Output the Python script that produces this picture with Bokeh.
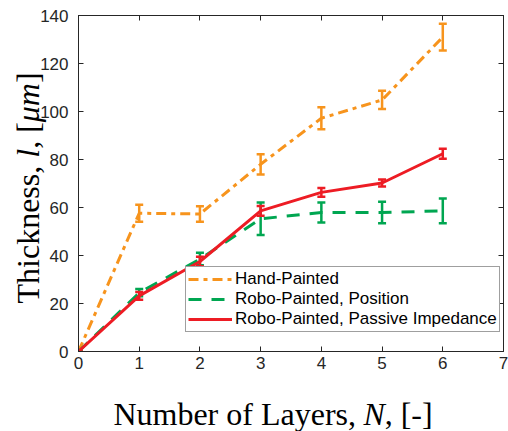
from bokeh.plotting import figure
from bokeh.layouts import row, column
from bokeh.models import (ColumnDataSource, Whisker, TeeHead, Legend, LegendItem,
                          Label, LinearAxis, FixedTicker, Range1d)
from bokeh.embed import file_html
from bokeh.resources import INLINE
from math import pi

# ---------------- data ----------------
layers = [0, 1, 2, 3, 4, 5, 6]
hand = [0, 57.6, 57.3, 78.0, 97.2, 104.8, 131.0]
hand_err = [0, 3.5, 3.2, 4.2, 4.6, 3.8, 5.6]
position = [0, 24.5, 38.5, 55.3, 57.9, 57.9, 58.6]
position_err = [0, 1.5, 2.6, 6.8, 4.2, 4.5, 5.2]
impedance = [0, 23.2, 37.5, 58.6, 66.3, 70.2, 82.4]
impedance_err = [0, 1.6, 2.0, 2.0, 1.8, 1.5, 2.1]

series_names = ["Hand-Painted", "Robo-Painted, Position", "Robo-Painted, Passive Impedance"]
x_ticks = [0, 1, 2, 3, 4, 5, 6, 7]
y_ticks = [0, 20, 40, 60, 80, 100, 120, 140]

ORANGE = "#F7941D"
GREEN = "#00A651"
RED = "#ED1C24"
AX = "#262626"

# ---------------- main chart ----------------
p = figure(width=471, height=380, output_backend="svg", toolbar_location=None,
           x_range=Range1d(0, 7), y_range=Range1d(0, 140),
           min_border_left=40, min_border_right=5, min_border_top=15,
           min_border_bottom=29, background_fill_color="white",
           border_fill_alpha=0)
p.grid.visible = False
p.outline_line_color = AX
p.outline_line_width = 1

for ax in (p.xaxis[0], p.yaxis[0]):
    ax.major_tick_in = 5
    ax.major_tick_out = 0
    ax.minor_tick_line_color = None
    ax.axis_line_color = AX
    ax.major_tick_line_color = AX
    ax.major_label_text_font = "Liberation Sans"
    ax.major_label_text_font_size = "17px"
    ax.major_label_text_color = AX
p.xaxis.ticker = FixedTicker(ticks=x_ticks)
p.yaxis.ticker = FixedTicker(ticks=y_ticks)
p.xaxis.major_label_standoff = 5
p.yaxis.major_label_standoff = 10

top = LinearAxis(ticker=FixedTicker(ticks=x_ticks), major_tick_in=5, major_tick_out=0,
                 minor_tick_line_color=None, major_label_text_font_size="1px",
                 major_label_text_color=None,
                 major_label_standoff=0, axis_line_color=AX, major_tick_line_color=AX)
right = LinearAxis(ticker=FixedTicker(ticks=y_ticks), major_tick_in=5, major_tick_out=0,
                   minor_tick_line_color=None, major_label_text_font_size="1px",
                   major_label_text_color=None,
                   major_label_standoff=0, axis_line_color=AX, major_tick_line_color=AX)
p.add_layout(top, "above")
p.add_layout(right, "right")

specs = [
    (hand, hand_err, ORANGE, "10 5 4 5"),
    (position, position_err, GREEN, "13 10"),
    (impedance, impedance_err, RED, "solid"),
]
renderers = []
for vals, errs, col, dash in specs:
    src = ColumnDataSource(dict(
        x=layers, y=vals,
        upper=[v + e for v, e in zip(vals, errs)],
        lower=[v - e for v, e in zip(vals, errs)]))
    w = Whisker(source=src, base="x", upper="upper", lower="lower",
                line_color=col, line_width=2.5,
                upper_head=TeeHead(size=8, line_color=col, line_width=2.5),
                lower_head=TeeHead(size=8, line_color=col, line_width=2.5))
    p.add_layout(w)
    r = p.line("x", "y", source=src, line_color=col, line_width=3, line_dash=dash)
    renderers.append(r)

legend = Legend(items=[LegendItem(label=n, renderers=[r]) for n, r in zip(series_names, renderers)],
                location=(107, 19), orientation="vertical",
                label_text_font="Liberation Sans", label_text_font_size="17px",
                label_text_color="black", glyph_width=44, glyph_height=20,
                label_height=20, label_standoff=3, padding=2, spacing=0, margin=0,
                border_line_color="#404040", border_line_width=1,
                background_fill_color="white", background_fill_alpha=1)
p.add_layout(legend)

# ---------------- axis titles (separate text panels, page pixel coordinates) ----------------
FS = 32

def title_panel(w, h, xr, yr, left=0, right_b=0):
    f = figure(width=w, height=h, output_backend="svg", toolbar_location=None,
               x_range=Range1d(*xr), y_range=Range1d(*yr), min_border=0,
               min_border_left=left, min_border_right=right_b,
               x_axis_type=None, y_axis_type=None, outline_line_color=None,
               background_fill_color="white", border_fill_color="white")
    f.grid.visible = False
    return f

def lab(f, x, y, text, italic=False, angle=0):
    f.add_layout(Label(x=x, y=y, text=text, angle=angle,
                       text_align="left", text_baseline="middle",
                       text_font="Liberation Serif", text_font_size=f"{FS}px",
                       text_font_style="italic" if italic else "normal",
                       text_color="black"))

# x title panel: its frame covers page x 77..503, page y 380..431
fx = title_panel(471, 51, (77, 503), (431, 380), left=40, right_b=5)
x0, ym = 112, 413
lab(fx, x0, ym, "Number of Layers,")
lab(fx, x0 + 7.831 * FS, ym, "N", italic=True)
lab(fx, x0 + 8.498 * FS, ym, ",")
lab(fx, x0 + 8.998 * FS, ym, "[-]")

# y title panel: page x 0..48 (right part lies under the chart's transparent border)
fy = title_panel(48, 431, (0, 48), (431, 0))
fy.margin = (0, -11, 0, 0)
xm, y0 = 27, 303
lab(fy, xm, y0, "Thickness,", angle=pi / 2)
lab(fy, xm, y0 - 4.555 * FS, "l", italic=True, angle=pi / 2)
lab(fy, xm, y0 - 4.833 * FS, ",", angle=pi / 2)
lab(fy, xm, y0 - 5.333 * FS, "[", angle=pi / 2)
lab(fy, xm, y0 - 5.666 * FS, "\u03bcm", italic=True, angle=pi / 2)
lab(fy, xm, y0 - 6.888 * FS, "]", angle=pi / 2)

layout = row(fy, column(p, fx, spacing=0), spacing=0)
open("out.html", "w").write(file_html(layout, INLINE))
